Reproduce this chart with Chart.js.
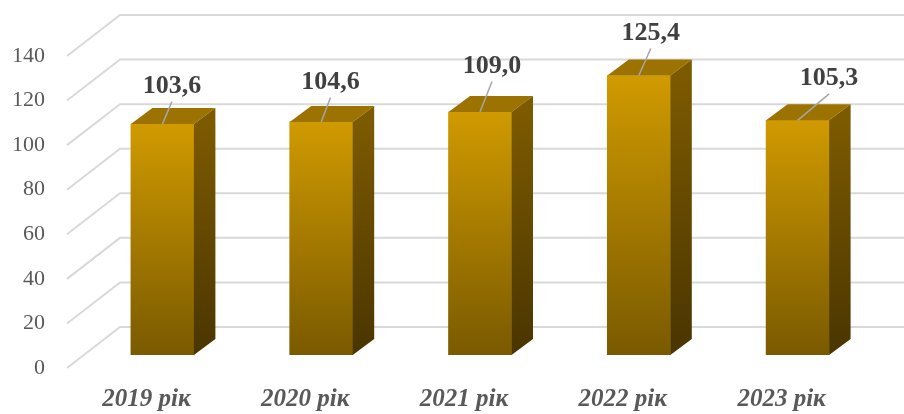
<!DOCTYPE html>
<html lang="uk">
<head>
  <meta charset="UTF-8" />
  <title>Chart</title>
  <script src="https://cdn.jsdelivr.net/npm/chart.js"></script>
  <style>
    html, body { margin: 0; padding: 0; background: #fff; }
    #wrap { width: 904px; height: 414px; }
  </style>
</head>
<body>
  <div id="wrap"><canvas id="chart" width="904" height="414"></canvas></div>
  <script>
    const categories = ['2019 рік', '2020 рік', '2021 рік', '2022 рік', '2023 рік'];
    const values = [103.6, 104.6, 109.0, 125.4, 105.3];
    const yTicks = [0, 20, 40, 60, 80, 100, 120, 140];

    // where each value label sits relative to the top of its bar (moved by hand in the original)
    const labelShift = [[9.5, -40], [9.3, -42], [12, -48], [12, -44.5], [31.5, -44]];

    const DEPTH_X = 21.5, DEPTH_Y = -16;
    const SERIF = '"Liberation Serif", "Times New Roman", serif';
    const fmt = v => v.toFixed(1).replace('.', ',');

    const grid3d = {
      id: 'grid3d',
      beforeDatasetsDraw(chart) {
        const { ctx, chartArea, scales: { y } } = chart;
        ctx.save();
        ctx.strokeStyle = '#d9d9d9';
        ctx.lineWidth = 2;
        yTicks.forEach(v => {
          const py = y.getPixelForValue(v);
          ctx.beginPath();
          ctx.moveTo(chartArea.left - 16, py + 13);
          ctx.lineTo(chartArea.left + 37, py - 28);
          ctx.lineTo(chart.width, py - 28);
          ctx.stroke();
        });
        ctx.restore();
      }
    };

    const bars3d = {
      id: 'bars3d',
      afterDatasetsDraw(chart) {
        const { ctx } = chart;
        const meta = chart.getDatasetMeta(0);
        ctx.save();
        meta.data.forEach((bar, i) => {
          const { x, y, base, width } = bar.getProps(['x', 'y', 'base', 'width'], true);
          const l = x - width / 2, r = x + width / 2;

          // top face
          ctx.fillStyle = '#9c7200';
          ctx.beginPath();
          ctx.moveTo(l, y);
          ctx.lineTo(r, y);
          ctx.lineTo(r + DEPTH_X, y + DEPTH_Y);
          ctx.lineTo(l + DEPTH_X, y + DEPTH_Y);
          ctx.closePath();
          ctx.fill();

          // side face
          const g = ctx.createLinearGradient(0, y, 0, base);
          g.addColorStop(0, '#7c5a00');
          g.addColorStop(1, '#4a3500');
          ctx.fillStyle = g;
          ctx.beginPath();
          ctx.moveTo(r, y);
          ctx.lineTo(r + DEPTH_X, y + DEPTH_Y);
          ctx.lineTo(r + DEPTH_X, base + DEPTH_Y);
          ctx.lineTo(r, base);
          ctx.closePath();
          ctx.fill();

          // value label with leader line
          const [dx, dy] = labelShift[i];
          const lx = x + dx, baseline = y + dy + 9;
          ctx.strokeStyle = '#a6a6a6';
          ctx.lineWidth = 1.5;
          ctx.beginPath();
          ctx.moveTo(lx, baseline + 8.5);
          ctx.lineTo(x, y);
          ctx.stroke();

          ctx.fillStyle = '#404040';
          ctx.font = 'bold 26px ' + SERIF;
          ctx.textAlign = 'center';
          ctx.textBaseline = 'alphabetic';
          ctx.fillText(fmt(values[i]), lx, baseline);
        });
        ctx.restore();
      }
    };

    new Chart(document.getElementById('chart').getContext('2d'), {
      type: 'bar',
      data: {
        labels: categories,
        datasets: [{
          data: values,
          barThickness: 63,
          borderWidth: 0,
          backgroundColor(c) {
            const chart = c.chart;
            if (!chart.chartArea) return '#b88a00';
            const y = chart.scales.y;
            const g = chart.ctx.createLinearGradient(0, y.getPixelForValue(c.raw), 0, y.getPixelForValue(0));
            g.addColorStop(0, '#d09a00');
            g.addColorStop(1, '#7a5a00');
            return g;
          }
        }]
      },
      options: {
        responsive: false,
        animation: false,
        devicePixelRatio: 1,
        layout: { padding: { top: 43, right: 27, bottom: 0, left: 0 } },
        plugins: { legend: { display: false }, tooltip: { enabled: false } },
        scales: {
          x: {
            grid: { display: false, drawTicks: false },
            border: { display: false },
            ticks: {
              color: '#595959',
              padding: 30,
              labelOffset: -16,
              font: { family: SERIF, size: 25, weight: 'bold', style: 'italic' }
            },
            afterFit(s) { s.height = 59; s.paddingLeft = 0; s.paddingRight = 0; }
          },
          y: {
            min: 0,
            max: 140,
            grid: { display: false, drawTicks: false },
            border: { display: false },
            ticks: {
              stepSize: 20,
              color: '#595959',
              padding: 38,
              labelOffset: 13,
              font: { family: SERIF, size: 22 }
            },
            afterFit(s) { s.width = 83; s.paddingTop = 0; s.paddingBottom = 0; }
          }
        }
      },
      plugins: [grid3d, bars3d]
    });
  </script>
</body>
</html>
